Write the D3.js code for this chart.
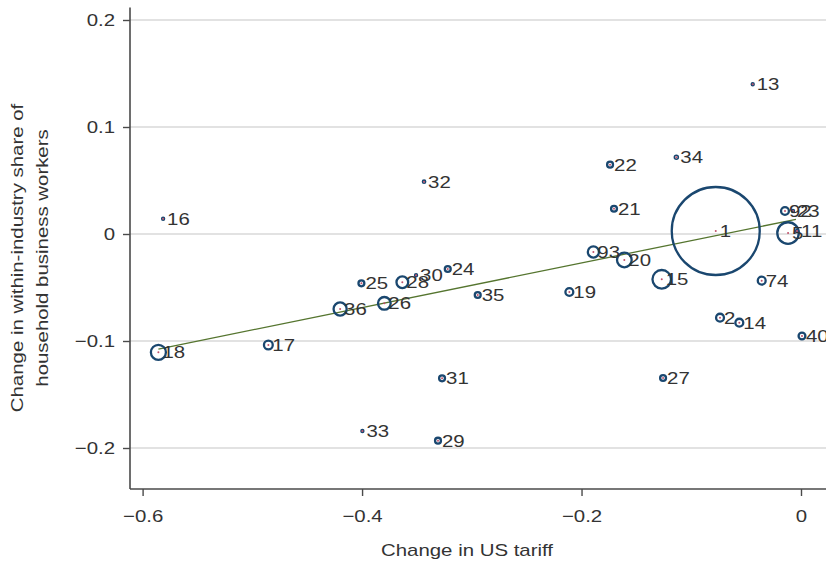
<!DOCTYPE html>
<html>
<head>
<meta charset="utf-8">
<script src="https://cdn.jsdelivr.net/npm/d3@7"></script>
<style>
  html, body { margin: 0; padding: 0; background: #fff; }
  svg { display: block; }
  text { font-family: "Liberation Sans", Arial, Helvetica, sans-serif; }
</style>
</head>
<body>
<svg id="chart" width="826" height="570"></svg>
<script>
// ---- data ----
const labels  = ["1","2","5","11","13","14","15","16","17","18","19","20","21","22","23","92","24","25","26","27","28","29","30","31","32","33","34","35","36","40","74","93"];
const tariff  = [-0.0777,-0.0738,-0.0118,-0.0036,-0.0440,-0.0562,-0.1269,-0.5813,-0.4854,-0.5856,-0.2111,-0.1610,-0.1704,-0.1740,-0.0073,-0.0146,-0.3219,-0.4006,-0.3797,-0.1257,-0.3633,-0.3308,-0.3508,-0.3271,-0.3435,-0.3997,-0.1136,-0.2946,-0.4200,0.0009,-0.0358,-0.1892];
const share   = [0.0028,-0.0782,0.0009,0.0028,0.1399,-0.0829,-0.0423,0.0143,-0.1037,-0.1106,-0.0542,-0.0243,0.0236,0.0648,0.0215,0.0215,-0.0327,-0.0461,-0.0648,-0.1346,-0.0451,-0.1932,-0.0386,-0.1349,0.0489,-0.1841,0.0717,-0.0570,-0.0701,-0.0953,-0.0436,-0.0168];
const weight  = [40,0.32,2.40,0.04,0.04,0.32,1.78,0.04,0.40,1.17,0.32,1.11,0.18,0.18,0.04,0.32,0.18,0.18,0.83,0.18,0.71,0.18,0.04,0.18,0.05,0.04,0.08,0.18,0.89,0.24,0.32,0.64];
const xTicks = [-0.6,-0.4,-0.2,0];
const yTicks = [-0.2,-0.1,0,0.1,0.2];
const fitX = [-0.5856,-0.0046];
const fitY = [-0.1075,0.0137];
const xTitle = "Change in US tariff";
const yTitle = ["Change in within-industry share of","household business workers"];

const points = labels.map((l,i)=>({label:l, x:tariff[i], y:share[i], w:weight[i]}));

// ---- layout ----
const svg = d3.select("#chart");
const x = d3.scaleLinear().domain([-0.6, 0]).range([142.6, 801]);
const y = d3.scaleLinear().domain([-0.2, 0.2]).range([448, 20]);
const r = d3.scaleSqrt().domain([0, 40]).range([0, 44]);
const plotLeft = 130, plotRight = 826, plotTop = 7.5, plotBottom = 489;
const FS = "17px";
const STRETCH = 1.2;
const TXT = "#333";

const fmt = v => v === 0 ? "0" : (v < 0 ? "\u2212" + Math.abs(v) : String(v));

// gridlines
svg.append("g").selectAll("line").data(yTicks).join("line")
  .attr("x1", plotLeft).attr("x2", plotRight)
  .attr("y1", d=>y(d)).attr("y2", d=>y(d))
  .attr("stroke", "#d9d9d9").attr("stroke-width", 1.3);

// y axis
const yAxis = svg.append("g").attr("transform", `translate(${plotLeft},0)`)
  .call(d3.axisLeft(y).tickValues(yTicks).tickFormat(fmt).tickSize(7).tickPadding(8));
yAxis.select(".domain").remove();
yAxis.append("line").attr("x1",0).attr("x2",0).attr("y1",plotTop).attr("y2",plotBottom)
  .attr("stroke","#4a4a4a").attr("stroke-width",1.6);

// x axis
const xAxis = svg.append("g").attr("transform", `translate(0,${plotBottom})`)
  .call(d3.axisBottom(x).tickValues(xTicks).tickFormat(fmt).tickSize(7).tickPadding(14));
xAxis.select(".domain").remove();
xAxis.append("line").attr("x1",plotLeft).attr("x2",plotRight).attr("y1",0).attr("y2",0)
  .attr("stroke","#4a4a4a").attr("stroke-width",1.6);

[yAxis, xAxis].forEach(g=>{
  g.selectAll(".tick line").attr("stroke","#4a4a4a").attr("stroke-width",1.4);
  g.selectAll(".tick text").attr("fill",TXT).style("font-size",FS);
});

// fit line
svg.append("line")
  .attr("x1", x(fitX[0])).attr("y1", y(fitY[0]))
  .attr("x2", x(fitX[1])).attr("y2", y(fitY[1]))
  .attr("stroke", "#55752f").attr("stroke-width", 1.3);

// markers
const g = svg.append("g");
g.selectAll("circle.m").data(points).join("circle").attr("class","m")
  .attr("cx", d=>x(d.x)).attr("cy", d=>y(d.y))
  .attr("r", d=>Math.max(1.2, r(d.w)))
  .attr("fill", "none").attr("stroke", "#1a476f")
  .attr("stroke-width", d => r(d.w) < 2 ? 1.6 : 2.3);
g.selectAll("circle.c").data(points).join("circle").attr("class","c")
  .attr("cx", d=>x(d.x)).attr("cy", d=>y(d.y)).attr("r", 1)
  .attr("fill", "#c0506a");

// labels
g.selectAll("text").data(points).join("text")
  .attr("x", d=>x(d.x)+4).attr("y", d=>y(d.y))
  .attr("dy", "0.36em")
  .attr("fill", TXT).style("font-size",FS)
  .text(d=>d.label);

// axis titles
svg.append("text").attr("x", 467).attr("y", 556).attr("text-anchor","middle")
  .attr("fill",TXT).style("font-size",FS).text(xTitle);
yTitle.forEach((t,i)=>{
  svg.append("text").attr("transform",`translate(${23 + i*25},258) rotate(-90)`)
    .attr("text-anchor","middle").attr("fill",TXT).style("font-size",FS).text(t);
});

// the reference typeface is wider than Liberation Sans: stretch glyphs horizontally
svg.selectAll("text").each(function(){
  const L = this.getComputedTextLength();
  if (L > 0) d3.select(this).attr("textLength", L*STRETCH).attr("lengthAdjust","spacingAndGlyphs");
});
</script>
</body>
</html>
